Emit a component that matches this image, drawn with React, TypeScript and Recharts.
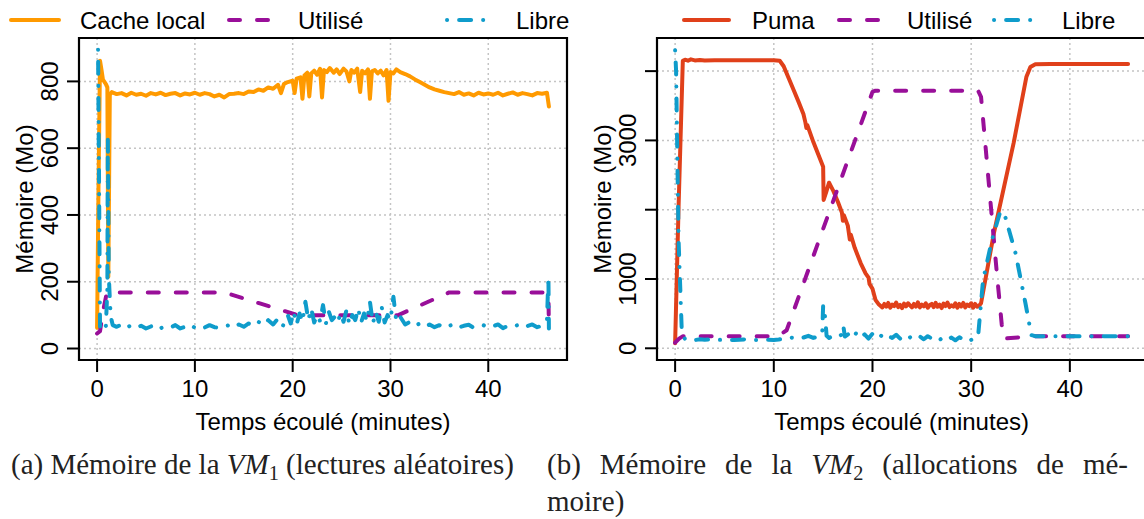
import React from "react"
import { LineChart, Line, XAxis, YAxis, CartesianGrid, ReferenceArea } from "recharts"

const SANS = '"Liberation Sans", Arial, Helvetica, sans-serif'
const SERIF = '"Liberation Serif", "Times New Roman", serif'

const ORANGE = "#ff9a00"
const PURPLE = "#990f99"
const BLUE = "#0f9ccb"
const RED = "#e0401a"

// VM1 : temps (minutes), mémoire (Mo)
const vm1Cache: [number, number][] = [
  [0, 62], [0.15, 500], [0.3, 862], [0.45, 835], [0.6, 805], [0.9, 792], [1.05, 782], [1.15, 215], [1.3, 760],
  [1.5, 768], [2, 762], [2.5, 765], [3, 758], [3.5, 766], [4, 760], [4.5, 763], [5, 757], [5.5, 765], [6, 761],
  [6.5, 766], [7, 759], [7.5, 763], [8, 765], [8.5, 758], [9, 764], [9.5, 761], [10, 766], [10.5, 760], [11, 765],
  [11.5, 762], [12, 755], [12.5, 760], [13, 752], [13.5, 762], [14, 763], [14.5, 765], [15, 762], [15.5, 770],
  [16, 768], [16.5, 776], [17, 772], [17.5, 782], [18, 778], [18.5, 790], [18.8, 765], [19.1, 792], [19.5, 798],
  [20, 802], [20.2, 765], [20.4, 808], [20.8, 812], [21, 748], [21.2, 818], [21.5, 826], [21.7, 755], [21.9, 824],
  [22.2, 832], [22.5, 820], [22.8, 838], [23.0, 752], [23.2, 834], [23.5, 828], [23.8, 840], [24.2, 826],
  [24.5, 836], [24.8, 822], [25.2, 838], [25.5, 830], [25.8, 800], [26, 834], [26.3, 826], [26.6, 838],
  [26.9, 768], [27.1, 832], [27.4, 824], [27.7, 836], [27.9, 748], [28.1, 830], [28.4, 834], [28.7, 824],
  [29, 832], [29.3, 818], [29.6, 834], [29.8, 742], [30, 828], [30.3, 824], [30.6, 836], [31, 828], [31.5, 822],
  [32, 815], [32.5, 806], [33, 798], [33.5, 790], [34, 782], [34.5, 776], [35, 772], [35.5, 768], [36, 765],
  [36.5, 762], [37, 768], [37.5, 760], [38, 764], [38.5, 758], [39, 766], [39.5, 761], [40, 764], [40.5, 760],
  [41, 766], [41.5, 758], [42, 763], [42.5, 767], [43, 760], [43.5, 765], [44, 762], [44.5, 758], [45, 765],
  [45.5, 763], [46, 766], [46.2, 725],
]

const vm1Used: [number, number][] = [
  [0, 45], [0.3, 52], [0.6, 110], [1.0, 168], [13, 168], [20.5, 100], [30.8, 100], [36, 168], [46.15, 168], [46.2, 60],
]

const vm1Free: [number, number][] = [
  [0.1, 895], [0.2, 500], [0.3, 60], [0.45, 70], [0.7, 62], [0.9, 68], [1.05, 180], [1.1, 635], [1.2, 215],
  [1.3, 150], [1.4, 95], [1.6, 70], [2, 65], [2.5, 72], [3, 62], [3.5, 70], [4, 63], [4.5, 68], [5, 60], [5.5, 66],
  [6, 72], [6.5, 61], [7, 67], [7.5, 63], [8, 70], [8.5, 60], [9, 65], [9.5, 72], [10, 62], [10.5, 68], [11, 63],
  [11.5, 70], [12, 64], [12.5, 62], [13, 66], [13.5, 70], [14, 63], [14.5, 72], [15, 65], [15.5, 75], [16, 68],
  [16.5, 80], [17, 70], [17.5, 85], [18, 72], [18.5, 90], [19, 68], [19.5, 100], [19.8, 75], [20.1, 110],
  [20.4, 72], [20.7, 105], [21, 80], [21.3, 140], [21.6, 85], [21.9, 120], [22.2, 78], [22.5, 100], [22.8, 82],
  [23.1, 130], [23.4, 75], [23.7, 110], [24, 85], [24.3, 95], [24.6, 78], [24.9, 105], [25.2, 80], [25.5, 115],
  [25.8, 72], [26.1, 100], [26.4, 85], [26.7, 120], [27, 78], [27.3, 105], [27.6, 82], [27.9, 140], [28.2, 75],
  [28.5, 110], [28.8, 80], [29.1, 125], [29.4, 78], [29.7, 100], [30, 85], [30.3, 155], [30.6, 80], [31, 95],
  [31.5, 72], [32, 80], [32.5, 68], [33, 75], [33.5, 65], [34, 72], [34.5, 64], [35, 70], [35.5, 62], [36, 68],
  [36.5, 73], [37, 63], [37.5, 68], [38, 71], [38.5, 62], [39, 66], [39.5, 70], [40, 63], [40.5, 67], [41, 72],
  [41.5, 61], [42, 68], [42.5, 65], [43, 70], [43.5, 62], [44, 67], [44.5, 72], [45, 64], [45.5, 68], [46, 85],
  [46.15, 215], [46.2, 60],
]

// VM2
const vm2Puma: [number, number][] = [
  [0, 72], [0.35, 2040], [0.78, 4150], [1.0, 4165], [1.3, 4150], [1.6, 4170], [2, 4155], [2.5, 4160], [3, 4152],
  [4, 4156], [5, 4158], [6, 4156], [7, 4158], [8, 4157], [9, 4158], [10, 4158], [10.6, 4150], [11, 4070],
  [11.5, 3900], [12, 3730], [12.5, 3560], [13, 3380], [13.2, 3260], [13.3, 3180], [13.4, 3220], [14, 2980],
  [14.5, 2800], [15, 2620], [15.05, 2140], [15.3, 2250], [15.6, 2390], [16, 2280], [16.5, 2110], [16.9, 1960],
  [17.0, 1840], [17.1, 1920], [17.5, 1770], [17.7, 1570], [17.8, 1640], [18.2, 1450], [18.8, 1230], [19.3, 1080],
  [19.6, 1020], [19.7, 930], [20, 860], [20.3, 700], [20.6, 640], [20.8, 615], [21.0, 590], [21.2, 640],
  [21.4, 600], [21.6, 655], [21.8, 585], [22.0, 630], [22.2, 610], [22.4, 660], [22.6, 595], [22.8, 625],
  [23.0, 580], [23.2, 645], [23.4, 605], [23.6, 650], [23.8, 620], [24.0, 590], [24.2, 640], [24.4, 600],
  [24.6, 665], [24.8, 590], [25.0, 630], [25.2, 605], [25.4, 650], [25.6, 585], [25.8, 625], [26.0, 640],
  [26.2, 595], [26.4, 655], [26.6, 600], [26.8, 630], [27.0, 580], [27.2, 645], [27.4, 610], [27.6, 660],
  [27.8, 595], [28.0, 620], [28.2, 600], [28.4, 650], [28.6, 585], [28.8, 640], [29.0, 605], [29.2, 655],
  [29.4, 590], [29.6, 630], [29.8, 610], [30.0, 650], [30.2, 585], [30.4, 640], [30.6, 600], [30.8, 615],
  [31.0, 650], [32.3, 1660], [34.3, 2960], [35.6, 3920], [36.0, 4060], [36.5, 4100], [38, 4102], [40, 4101],
  [42, 4102], [44, 4101], [45.9, 4102],
]

const vm2Used: [number, number][] = [
  [0, 80], [0.4, 140], [0.8, 175], [10.4, 175], [11.3, 260], [20.0, 3700], [20.3, 3717], [30.7, 3717],
  [31.0, 3630], [31.4, 3000], [32.6, 1085], [33.1, 340], [33.3, 140], [35, 160], [36.5, 175], [45.9, 175],
]

const vm2Free: [number, number][] = [
  [0, 4300], [0.1, 4000], [0.35, 1560], [0.67, 264], [1.0, 130], [1.5, 135], [2, 118], [2.5, 130], [3, 122],
  [3.5, 128], [4, 118], [5, 125], [6, 120], [7, 128], [8, 118], [9, 125], [10, 120], [10.5, 128], [11, 140],
  [11.5, 160], [12, 150], [12.5, 170], [13, 155], [13.5, 180], [14, 150], [14.5, 170], [14.9, 200], [15.0, 620],
  [15.2, 450], [15.35, 180], [15.6, 150], [16, 180], [16.5, 160], [16.9, 200], [17.05, 320], [17.2, 170],
  [17.6, 210], [18, 150], [18.4, 230], [18.8, 160], [19.2, 200], [19.6, 140], [20, 210], [20.4, 150], [20.8, 190],
  [21.2, 140], [21.6, 180], [22, 150], [22.4, 195], [22.8, 140], [23.2, 175], [23.6, 135], [24, 180], [24.4, 145],
  [24.8, 170], [25.2, 130], [25.6, 175], [26, 140], [26.4, 160], [26.8, 120], [27.2, 165], [27.6, 130], [28, 155],
  [28.4, 115], [28.8, 160], [29.2, 125], [29.6, 150], [30, 120], [30.4, 160], [30.7, 170], [31.2, 980],
  [32.1, 1560], [32.9, 1950], [33.3, 1975], [34.5, 1370], [35.5, 650], [36.1, 190], [36.5, 175], [45.9, 175],
]

const xTicks = [0, 10, 20, 30, 40]
const vm1YTicks = [0, 200, 400, 600, 800]
const vm2YTicks = [0, 1000, 2000, 3000, 4000]
const vm2YShown = [0, 1000, 3000]

const toRows = (pts: [number, number][]) => pts.map(([t, v]) => ({ t, v }))

const DASHED = "11 17"
const DOTDASH = "0.1 12 12 12"

type SeriesDef = { name: string; data: [number, number][]; color: string; dash?: string }

const YTick = (props: any) => {
  const { x, y, payload, shown } = props
  if (shown && !shown.includes(payload.value)) return null
  return (
    <text x={x} y={y} transform={`rotate(-90 ${x} ${y})`} textAnchor="middle" fontSize={24} fontFamily={SANS} fill="#000">
      {payload.value}
    </text>
  )
}

const XTick = (props: any) => {
  const { x, y, payload } = props
  return (
    <text x={x} y={y + 23} textAnchor="middle" fontSize={24} fontFamily={SANS} fill="#000">
      {payload.value}
    </text>
  )
}

interface PanelProps {
  left: number
  yAxisWidth: number
  marginRight: number
  xDomain: [number, number]
  yDomain: [number, number]
  yTicks: number[]
  yShown?: number[]
  series: SeriesDef[]
}

function MemoryPanel({ left, yAxisWidth, marginRight, xDomain, yDomain, yTicks, yShown, series }: PanelProps) {
  return (
    <div style={{ position: "absolute", left, top: 0 }}>
      <LineChart width={580} height={519} margin={{ top: 38, right: marginRight, bottom: 0, left: 0 }}>
        <XAxis
          type="number"
          dataKey="t"
          domain={xDomain}
          allowDataOverflow
          ticks={xTicks}
          interval={0}
          height={159}
          axisLine={false}
          tickSize={12}
          tickMargin={2}
          tickLine={{ stroke: "#000", strokeWidth: 2 }}
          tick={<XTick />}
          label={(p: any) => {
            const vb = p.viewBox
            return (
              <text x={vb.x + vb.width / 2} y={vb.y + 70} textAnchor="middle" fontSize={24} fontFamily={SANS} fill="#000">
                Temps écoulé (minutes)
              </text>
            )
          }}
        />
        <YAxis
          type="number"
          dataKey="v"
          domain={yDomain}
          allowDataOverflow
          ticks={yTicks}
          interval={0}
          width={yAxisWidth}
          axisLine={false}
          tickSize={12}
          tickMargin={9}
          tickLine={{ stroke: "#000", strokeWidth: 2 }}
          tick={<YTick shown={yShown} />}
          label={(p: any) => {
            const vb = p.viewBox
            const cx = vb.x + vb.width - 46
            const cy = vb.y + vb.height / 2
            return (
              <text x={cx} y={cy} transform={`rotate(-90 ${cx} ${cy})`} textAnchor="middle" fontSize={24} fontFamily={SANS} fill="#000">
                Mémoire (Mo)
              </text>
            )
          }}
        />
        {series.map((s) => (
          <Line
            key={s.name}
            data={toRows(s.data)}
            dataKey="v"
            name={s.name}
            type="linear"
            stroke={s.color}
            strokeWidth={4}
            strokeDasharray={s.dash}
            strokeLinecap="round"
            strokeLinejoin="round"
            dot={false}
            activeDot={false}
            isAnimationActive={false}
          />
        ))}
        <CartesianGrid stroke="#c4c4c4" strokeWidth={1.5} strokeDasharray="2 3" />
        <ReferenceArea
          x1={xDomain[0]}
          x2={xDomain[1]}
          y1={yDomain[0]}
          y2={yDomain[1]}
          fill="none"
          fillOpacity={0}
          stroke="#000"
          strokeWidth={2.2}
          ifOverflow="visible"
        />
      </LineChart>
    </div>
  )
}

// légende dessinée à la main, comme le legend() de R en haut de chaque panneau
const legendItems = [
  { label: "Cache local", color: ORANGE, dash: undefined, x1: 11, x2: 59, tx: 80 },
  { label: "Utilisé", color: PURPLE, dash: DASHED, x1: 229, x2: 276, tx: 298 },
  { label: "Libre", color: BLUE, dash: DOTDASH, x1: 447, x2: 494, tx: 516 },
  { label: "Puma", color: RED, dash: undefined, x1: 684, x2: 729, tx: 752 },
  { label: "Utilisé", color: PURPLE, dash: DASHED, x1: 839, x2: 886, tx: 907 },
  { label: "Libre", color: BLUE, dash: DOTDASH, x1: 994, x2: 1040, tx: 1062 },
]

function Legends() {
  return (
    <svg width={1144} height={38} style={{ position: "absolute", left: 0, top: 0 }}>
      {legendItems.map((it, i) => (
        <g key={i}>
          <line x1={it.x1} x2={it.x2} y1={20} y2={20} stroke={it.color} strokeWidth={4} strokeDasharray={it.dash} strokeLinecap="round" />
          <text x={it.tx} y={29} fontSize={24} fontFamily={SANS} fill="#000">{it.label}</text>
        </g>
      ))}
    </svg>
  )
}

const captionStyle: React.CSSProperties = {
  position: "absolute",
  fontFamily: SERIF,
  fontSize: 29,
  lineHeight: "29px",
  color: "#222",
  whiteSpace: "nowrap",
}

const Sub = ({ children }: { children: React.ReactNode }) => (
  <span style={{ fontSize: "0.7em", position: "relative", top: "0.3em" }}>{children}</span>
)

export default function App() {
  return (
    <div style={{ position: "absolute", left: 0, top: 0, width: 1144, height: 519, overflow: "hidden", background: "#fff" }}>
      <MemoryPanel
        left={0}
        yAxisWidth={79}
        marginRight={13}
        xDomain={[-1.85, 48.05]}
        yDomain={[-34.4, 930]}
        yTicks={vm1YTicks}
        series={[
          { name: "Cache local", data: vm1Cache, color: ORANGE },
          { name: "Utilisé", data: vm1Used, color: PURPLE, dash: DASHED },
          { name: "Libre", data: vm1Free, color: BLUE, dash: DOTDASH },
        ]}
      />
      <MemoryPanel
        left={580}
        yAxisWidth={77}
        marginRight={13.8}
        xDomain={[-1.836, 47.736]}
        yDomain={[-169, 4478]}
        yTicks={vm2YTicks}
        yShown={vm2YShown}
        series={[
          { name: "Puma", data: vm2Puma, color: RED },
          { name: "Utilisé", data: vm2Used, color: PURPLE, dash: DASHED },
          { name: "Libre", data: vm2Free, color: BLUE, dash: DOTDASH },
        ]}
      />
      <Legends />
      <div style={{ ...captionStyle, left: 11, top: 450 }}>
        (a) Mémoire de la <i>VM</i><Sub>1</Sub> (lectures aléatoires)
      </div>
      <div style={{ ...captionStyle, left: 547, top: 450, width: 581, textAlign: "justify", textAlignLast: "justify" }}>
        (b) Mémoire de la <i>VM</i><Sub>2</Sub> (allocations de mé-
      </div>
      <div style={{ ...captionStyle, left: 547, top: 487 }}>moire)</div>
    </div>
  )
}
